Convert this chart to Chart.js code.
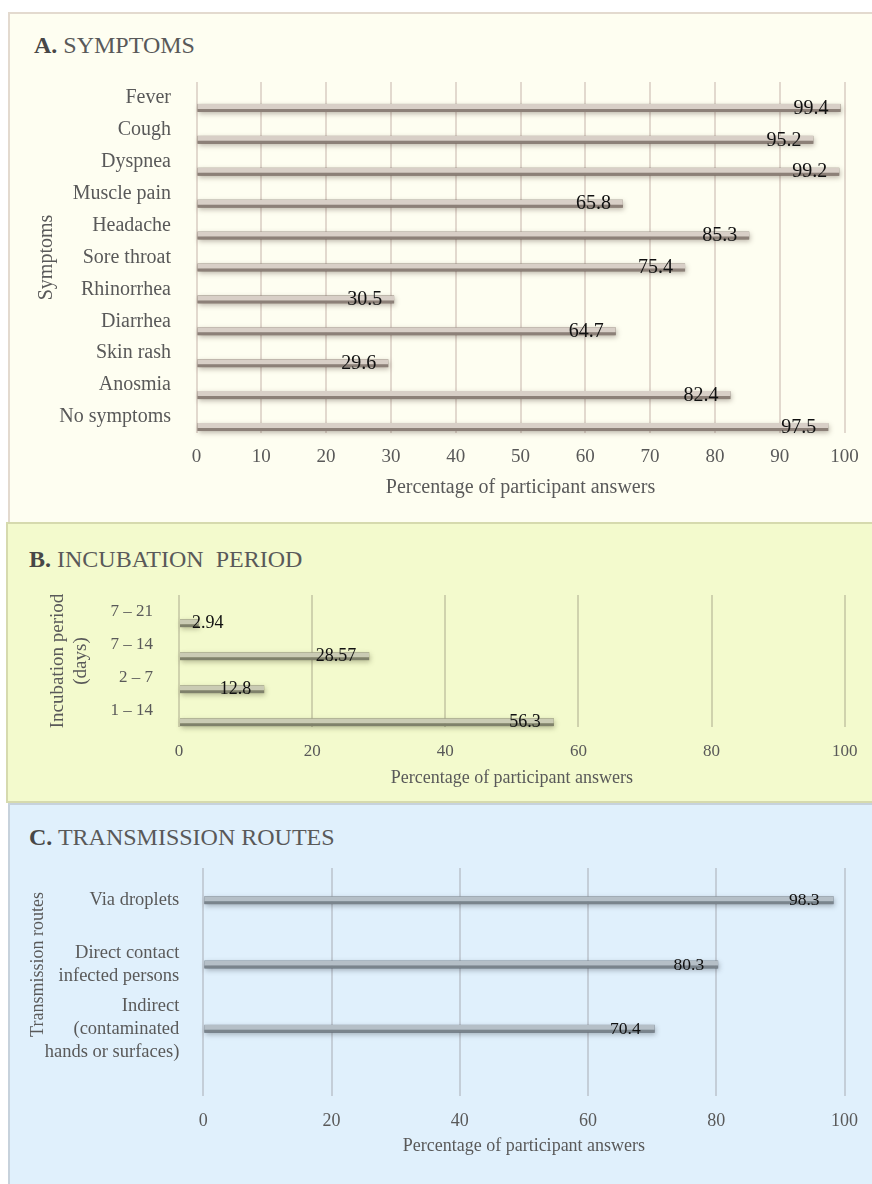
<!DOCTYPE html>
<html>
<head>
<meta charset="utf-8">
<script src="https://cdn.jsdelivr.net/npm/chart.js@4.4.1/dist/chart.umd.min.js"></script>
<style>
  body { margin: 0; width: 872px; height: 1184px; position: relative; overflow: hidden; background: #fff;
         font-family: 'Liberation Serif', 'Times New Roman', serif; }
  .panel { position: absolute; box-sizing: border-box; }
  .title { position: absolute; font-size: 24px; line-height: 24px; color: #595959; white-space: pre; }
  .title b { color: #474747; }
  .wrap { position: absolute; left: 0; width: 872px; }
</style>
</head>
<body>
<div class="panel" style="left:8px;top:12px;width:864px;height:511px;background:#fefef1;border-top:2px solid #e3dacf;border-left:2px solid #e3dacf;"></div>
<div class="panel" style="left:6px;top:522px;width:866px;height:281px;background:#f3facd;border:2px solid #d6daae;border-right:none;"></div>
<div class="panel" style="left:8px;top:803px;width:864px;height:381px;background:#e0f0fc;border-top:2px solid #c7d2dc;border-left:2px solid #c7d2dc;"></div>

<div class="title" style="left:34px;top:33px"><b>A.</b> SYMPTOMS</div>
<div class="title" style="left:29px;top:547px"><b>B.</b> INCUBATION  PERIOD</div>
<div class="title" style="left:29px;top:825px"><b>C.</b> TRANSMISSION ROUTES</div>

<div class="wrap" style="top:60px;height:463px"><canvas id="chartA"></canvas></div>
<div class="wrap" style="top:580px;height:223px"><canvas id="chartB"></canvas></div>
<div class="wrap" style="top:860px;height:324px"><canvas id="chartC"></canvas></div>

<script>
// A. symptoms
const symptomLabels = ['Fever', 'Cough', 'Dyspnea', 'Muscle pain', 'Headache', 'Sore throat',
  'Rhinorrhea', 'Diarrhea', 'Skin rash', 'Anosmia', 'No symptoms'];
const symptomValues = [99.4, 95.2, 99.2, 65.8, 85.3, 75.4, 30.5, 64.7, 29.6, 82.4, 97.5];
const symptomTicks = [0, 10, 20, 30, 40, 50, 60, 70, 80, 90, 100];

// B. incubation period
const incubationLabels = ['7 – 21', '7 – 14', '2 – 7', '1 – 14'];
const incubationValues = [2.94, 28.57, 12.8, 56.3];
const incubationTicks = [0, 20, 40, 60, 80, 100];

// C. transmission routes
const routeLabels = ['Via droplets', ['Direct contact', 'infected persons'],
  ['Indirect', '(contaminated', 'hands or surfaces)']];
const routeValues = [98.3, 80.3, 70.4];
const routeTicks = [0, 20, 40, 60, 80, 100];

const FAMILY = "'Liberation Serif', 'Times New Roman', serif";
const GRAY = '#595959';

// blurred shadow painted under each bar (bar itself is drawn on top of it)
const barShadow = {
  id: 'barShadow',
  beforeDatasetsDraw(chart, args, opts) {
    const ctx = chart.ctx;
    const last = chart.data.datasets.length - 1;
    ctx.save();
    ctx.shadowColor = opts.color;
    ctx.shadowBlur = 5;
    ctx.shadowOffsetY = 2;
    ctx.shadowOffsetX = 1;
    ctx.fillStyle = opts.color;
    chart.getDatasetMeta(last).data.forEach(bar => {
      const p = bar.getProps(['x', 'y', 'base', 'height'], true);
      ctx.fillRect(Math.min(p.base, p.x), p.y - p.height / 2, Math.abs(p.x - p.base), p.height);
    });
    ctx.restore();
  }
};

// value written near the end of each bar
const valueLabels = {
  id: 'valueLabels',
  afterDatasetsDraw(chart, args, opts) {
    const ctx = chart.ctx;
    const last = chart.data.datasets.length - 1;
    const values = chart.data.datasets[last].data;
    ctx.save();
    ctx.font = opts.size + 'px ' + FAMILY;
    ctx.fillStyle = '#111';
    ctx.textAlign = 'right';
    ctx.textBaseline = 'middle';
    chart.getDatasetMeta(last).data.forEach((bar, i) => {
      const text = String(values[i]);
      const w = ctx.measureText(text).width;
      const right = Math.max(bar.x - opts.gap, bar.base + 12 + w);
      ctx.fillText(text, right, bar.y + opts.dy);
    });
    ctx.restore();
  }
};

function hbar(id, c) {
  const datasets = [];
  // empty first group pushes the real bar into the lower part of each band
  if (c.spacer) datasets.push({ label: '', data: [] });
  datasets.push({
    label: c.name,
    data: c.values,
    backgroundColor: c.fill,
    borderColor: c.edge,
    borderWidth: { top: 0, right: 0, bottom: 3, left: 0 },
    maxBarThickness: 8
  });

  return new Chart(document.getElementById(id), {
    type: 'bar',
    data: { labels: c.labels, datasets: datasets },
    options: {
      indexAxis: 'y',
      responsive: true,
      maintainAspectRatio: false,
      animation: false,
      layout: { padding: c.padding },
      datasets: { bar: { categoryPercentage: c.catPct, barPercentage: 1 } },
      plugins: {
        legend: { display: false },
        tooltip: { enabled: false },
        barShadow: { color: c.shadow },
        valueLabels: { size: c.valueFont, gap: c.gap, dy: c.dy }
      },
      scales: {
        x: {
          min: 0,
          max: 100,
          afterBuildTicks: s => { s.ticks = c.ticks.map(v => ({ value: v })); },
          afterFit: s => { s.height = c.xHeight; },
          grid: { color: c.grid, lineWidth: 2, drawTicks: c.tickLen > 0, tickLength: c.tickLen },
          border: { display: false },
          ticks: { padding: c.xPad, color: GRAY, font: { family: FAMILY, size: c.xFont } },
          title: {
            display: true,
            text: 'Percentage of participant answers',
            color: GRAY,
            font: { family: FAMILY, size: c.xTitleFont },
            padding: { top: 0, bottom: c.xTitlePad }
          }
        },
        y: {
          afterFit: s => {
            s.width = c.yWidth;
            s.paddingTop = 0;
            s.paddingBottom = 0;
          },
          grid: { display: false },
          border: { display: false },
          ticks: { autoSkip: false, padding: c.yPad, color: GRAY,
                   font: { family: FAMILY, size: c.yFont, lineHeight: 1.25 } },
          title: {
            display: true,
            text: c.yTitle,
            color: GRAY,
            font: { family: FAMILY, size: c.yTitleFont, lineHeight: 1.2 },
            padding: { top: c.yTitlePad, bottom: 0 }
          }
        }
      }
    },
    plugins: [barShadow, valueLabels]
  });
}

hbar('chartA', {
  name: 'Symptoms', labels: symptomLabels, values: symptomValues, ticks: symptomTicks,
  spacer: true, catPct: 1.25,
  fill: '#d8cfc7', edge: '#8c8078', shadow: 'rgba(80,65,55,0.6)', grid: '#e2d9ce',
  padding: { top: 22, right: 27.5, bottom: 0, left: 0 },
  xHeight: 90, xPad: 13, xFont: 19, xTitleFont: 20, xTitlePad: 23, tickLen: 0,
  yWidth: 196.5, yPad: 17.5, yFont: 20, yTitle: 'Symptoms', yTitleFont: 20, yTitlePad: 35,
  valueFont: 20, gap: 12, dy: 0.5
});

hbar('chartB', {
  name: 'Incubation period', labels: incubationLabels, values: incubationValues, ticks: incubationTicks,
  spacer: true, catPct: 1.41,
  fill: '#cacbb4', edge: '#7f816b', shadow: 'rgba(80,80,50,0.6)', grid: '#cfd2ad',
  padding: { top: 15, right: 27, bottom: 0, left: 0 },
  xHeight: 76, xPad: 14.5, xFont: 17, xTitleFont: 18, xTitlePad: 14, tickLen: 0,
  yWidth: 179, yPad: 18, yFont: 17, yTitle: ['Incubation period', '(days)'], yTitleFont: 19, yTitlePad: 46.6,
  valueFont: 18, gap: 13, dy: 0
});

hbar('chartC', {
  name: 'Transmission routes', labels: routeLabels, values: routeValues, ticks: routeTicks,
  spacer: false, catPct: 0.8,
  fill: '#b5bfc7', edge: '#7a848c', shadow: 'rgba(60,70,80,0.6)', grid: '#c4ced8',
  padding: { top: 8, right: 25.3, bottom: 0, left: 0 },
  xHeight: 123, xPad: 14, xFont: 18, xTitleFont: 18, xTitlePad: 26.5, tickLen: 35,
  yWidth: 203.3, yPad: 16, yFont: 18.5, yTitle: 'Transmission routes', yTitleFont: 18, yTitlePad: 27,
  valueFont: 17.5, gap: 14, dy: 0.5
});
</script>
</body>
</html>
